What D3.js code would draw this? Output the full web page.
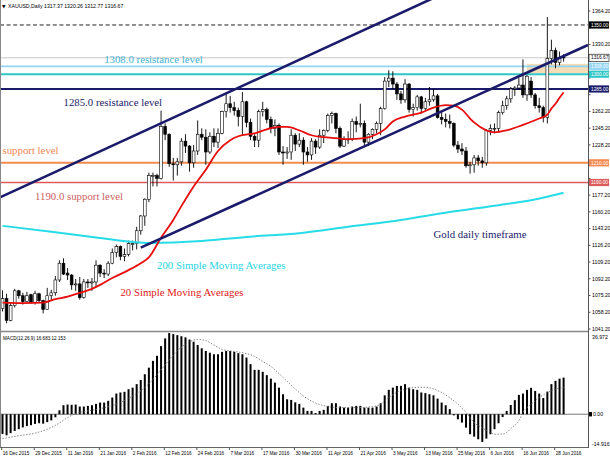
<!DOCTYPE html>
<html><head><meta charset="utf-8">
<script src="https://cdn.jsdelivr.net/npm/d3@7"></script>
<style>body{margin:0;background:#fff}svg{display:block}</style>
</head><body><svg id="c" width="610" height="457"></svg>
<script>
// ---------- DATA ----------
const dates = ["2015-12-16","2015-12-17","2015-12-18","2015-12-21","2015-12-22","2015-12-23","2015-12-24","2015-12-28","2015-12-29","2015-12-30","2015-12-31",
"2016-01-04","2016-01-05","2016-01-06","2016-01-07","2016-01-08","2016-01-11","2016-01-12","2016-01-13","2016-01-14","2016-01-15","2016-01-18","2016-01-19","2016-01-20","2016-01-21","2016-01-22","2016-01-25","2016-01-26","2016-01-27","2016-01-28","2016-01-29",
"2016-02-01","2016-02-02","2016-02-03","2016-02-04","2016-02-05","2016-02-08","2016-02-09","2016-02-10","2016-02-11","2016-02-12","2016-02-15","2016-02-16","2016-02-17","2016-02-18","2016-02-19","2016-02-22","2016-02-23","2016-02-24","2016-02-25","2016-02-26","2016-02-29",
"2016-03-01","2016-03-02","2016-03-03","2016-03-04","2016-03-07","2016-03-08","2016-03-09","2016-03-10","2016-03-11","2016-03-14","2016-03-15","2016-03-16","2016-03-17","2016-03-18","2016-03-21","2016-03-22","2016-03-23","2016-03-24","2016-03-28","2016-03-29","2016-03-30","2016-03-31",
"2016-04-01","2016-04-04","2016-04-05","2016-04-06","2016-04-07","2016-04-08","2016-04-11","2016-04-12","2016-04-13","2016-04-14","2016-04-15","2016-04-18","2016-04-19","2016-04-20","2016-04-21","2016-04-22","2016-04-25","2016-04-26","2016-04-27","2016-04-28","2016-04-29",
"2016-05-02","2016-05-03","2016-05-04","2016-05-05","2016-05-06","2016-05-09","2016-05-10","2016-05-11","2016-05-12","2016-05-13","2016-05-16","2016-05-17","2016-05-18","2016-05-19","2016-05-20","2016-05-23","2016-05-24","2016-05-25","2016-05-26","2016-05-27","2016-05-30","2016-05-31",
"2016-06-01","2016-06-02","2016-06-03","2016-06-06","2016-06-07","2016-06-08","2016-06-09","2016-06-10","2016-06-13","2016-06-14","2016-06-15","2016-06-16","2016-06-17","2016-06-20","2016-06-21","2016-06-22","2016-06-23","2016-06-24","2016-06-27","2016-06-28","2016-06-29","2016-06-30"];

const open = [1062,1072,1050,1065,1080,1075,1069,1076,1068,1077,1070,
1061,1075,1078,1091,1108,1098,1096,1086,1087,1073,1089,1088,1089,1106,1098,1097,1108,1119,1125,1115,
1117,1128,1128,1141,1156,1173,1197,1197,1194,1247,1239,1209,1208,1211,1232,1227,1210,1222,1239,1236,1221,
1237,1231,1240,1262,1270,1266,1263,1257,1272,1251,1237,1233,1262,1264,1254,1245,1248,1221,1220,1221,1238,1229,
1233,1221,1218,1232,1226,1238,1243,1258,1260,1245,1227,1234,1234,1252,1249,1250,1231,1239,1244,1250,1265,
1293,1296,1290,1280,1274,1290,1264,1266,1277,1265,1272,1274,1278,1256,1254,1252,1250,1228,1224,1222,1207,1208,
1215,1212,1210,1243,1245,1245,1261,1268,1275,1285,1286,1289,1279,1293,1279,1268,1266,1256,1316,1324,1312,1317.37];
const high = [1080.5,1077,1068,1082,1081,1078,1079,1077,1080,1078,1071,
1083,1081,1095,1111,1113,1103,1097,1092,1094,1092,1092,1093,1111,1107,1102,1110,1123,1127,1126,1123,
1131,1131,1145,1157,1174,1200,1200,1199,1263,1250,1240,1215,1215,1235,1239,1228,1228,1253,1245,1244,1241,
1245,1245,1263,1280,1278,1272,1266,1282,1273,1255,1239,1264,1272,1266,1257,1254,1250,1227,1226,1244,1240,1240,
1236,1226,1235,1234,1244,1244,1260,1262,1261,1247,1237,1242,1255,1257,1270,1253,1240,1245,1252,1267,1297,
1304,1303,1292,1283,1295,1291,1270,1279,1278,1276,1287,1285,1280,1262,1260,1259,1251,1232,1230,1226,1211,1218,
1218,1216,1244,1249,1250,1263,1273,1278,1287,1288,1296,1315,1299,1297,1281,1276,1268,1358,1335,1327,1323,1320.26];
const low = [1059,1047,1049,1063,1072,1066,1068,1067,1066,1068,1057,
1061,1071,1075,1089,1096,1091,1081,1080,1071,1072,1083,1080,1084,1094,1093,1095,1107,1114,1111,1110,
1115,1121,1122,1137,1146,1170,1186,1186,1193,1233,1206,1192,1197,1207,1220,1201,1205,1218,1233,1208,1219,
1226,1225,1239,1256,1261,1258,1247,1239,1246,1233,1226,1226,1257,1250,1240,1237,1218,1208,1214,1213,1222,1226,
1208,1211,1213,1219,1224,1230,1241,1250,1240,1225,1226,1229,1232,1241,1246,1228,1227,1234,1240,1238,1264,
1287,1285,1274,1270,1271,1261,1257,1263,1260,1263,1268,1272,1255,1249,1246,1245,1226,1220,1218,1205,1199,1200,
1207,1205,1207,1238,1240,1242,1259,1264,1271,1278,1284,1276,1273,1276,1265,1261,1251,1250,1310,1306,1309,1312.77];
const close = [1072,1050,1065,1080,1075,1069,1075,1068,1077,1070,1061,
1075,1078,1091,1108,1097,1096,1086,1087,1073,1089,1088,1089,1106,1098,1097,1108,1119,1125,1115,1117,
1128,1128,1141,1156,1173,1197,1197,1194,1247,1239,1209,1208,1211,1232,1227,1210,1222,1239,1236,1221,1237,
1231,1240,1262,1270,1266,1263,1257,1272,1251,1237,1233,1262,1264,1254,1245,1248,1221,1220,1221,1238,1229,1233,
1221,1218,1232,1226,1238,1243,1258,1260,1245,1227,1234,1234,1252,1249,1250,1231,1239,1244,1250,1265,1293,
1296,1290,1280,1274,1290,1264,1266,1277,1265,1272,1274,1278,1256,1254,1252,1250,1228,1224,1222,1207,1208,1215,
1212,1210,1243,1245,1245,1261,1268,1275,1285,1286,1289,1279,1298,1279,1268,1266,1256,1316,1324,1312,1317,1316.67];

// 20-period SMA: [date, price]
const sma20 = [["2015-12-16",1068],["2015-12-23",1067.5],["2015-12-31",1068],["2016-01-06",1071.5],["2016-01-11",1074],["2016-01-14",1078],["2016-01-19",1082],["2016-01-21",1086],["2016-01-26",1093],["2016-02-01",1101],["2016-02-04",1108],["2016-02-08",1114],["2016-02-11",1134],["2016-02-16",1152],["2016-02-18",1166],["2016-02-23",1186],["2016-02-26",1203],["2016-03-02",1222],["2016-03-07",1233],["2016-03-09",1237],["2016-03-15",1240],["2016-03-18",1244],["2016-03-23",1246.5],["2016-03-28",1246.5],["2016-03-31",1243],["2016-04-05",1238],["2016-04-08",1236],["2016-04-13",1235],["2016-04-18",1234],["2016-04-22",1235],["2016-04-27",1239],["2016-04-29",1244],["2016-05-03",1252],["2016-05-06",1257],["2016-05-12",1261],["2016-05-17",1266],["2016-05-20",1268.5],["2016-05-24",1268],["2016-05-26",1264],["2016-05-30",1255],["2016-05-31",1251],["2016-06-03",1243],["2016-06-07",1241],["2016-06-10",1243],["2016-06-16",1248.5],["2016-06-22",1255],["2016-06-24",1259],["2016-06-27",1265],["2016-06-28",1270],["2016-06-29",1276],["2016-06-30",1281.5]];
// 200-period SMA
const sma200 = [["2015-12-16",1146],["2016-01-05",1140],["2016-01-21",1133.6],["2016-02-02",1129.6],["2016-02-08",1128.6],["2016-02-25",1130.5],["2016-03-14",1135],["2016-03-31",1138.5],["2016-04-18",1145],["2016-05-05",1152],["2016-05-23",1160],["2016-06-08",1167],["2016-06-20",1172],["2016-06-30",1179.6]];

// MACD(12,26,9) main values (histogram)
const macd = [-9.0,-9.6,-8.6,-7.6,-6.8,-6.0,-5.4,-5.0,-4.4,-4.1,-4.3,-3.6,-2.8,-1.4,1.8,4.1,4.4,4.3,4.4,3.5,
3.5,3.8,4.1,4.7,5.3,5.3,6.1,7.6,9.4,9.9,10.2,11.4,12.1,13.7,15.6,18.2,21.2,24.3,26.6,31.0,
34.5,36.97,36.5,36.0,35.5,35.0,34.0,33.0,31.5,30.0,28.8,28.0,27.3,27.3,28.4,28.8,28.8,28.4,27.8,27.3,
25.8,22.8,20.2,20.2,19.3,17.8,16.2,14.4,12.1,9.1,6.8,6.5,5.4,4.7,3.0,1.5,1.5,0.5,1.5,2.0,
3.8,5.0,5.0,3.5,3.0,3.0,3.5,3.8,3.8,3.0,3.0,3.0,3.5,5.0,8.6,11.1,12.1,12.9,12.9,13.7,
12.1,11.4,11.1,9.9,9.6,9.1,8.6,7.1,5.3,4.1,2.3,-0.5,-2.3,-3.8,-6.1,-9.1,-10.2,-11.4,-12.6,-11.1,
-9.1,-6.8,-4.1,-1.3,1.5,4.2,6.4,8.8,9.4,11.1,12.0,10.6,9.4,7.4,10.3,13.7,15.2,16.2,16.68];
// MACD signal line samples [date, value]
const signal = [["2015-12-16",-11.1],["2015-12-22",-9.8],["2015-12-29",-8.6],["2016-01-05",-6.0],["2016-01-07",-4.0],["2016-01-11",-1.5],["2016-01-13",0.3],["2016-01-18",1.5],["2016-01-21",2.5],["2016-01-27",4.6],["2016-02-02",8.3],["2016-02-08",13.8],["2016-02-10",18],["2016-02-12",22.5],["2016-02-16",27],["2016-02-18",30.5],["2016-02-22",33],["2016-02-24",34],["2016-02-26",33.5],["2016-03-01",31.5],["2016-03-03",29.5],["2016-03-07",28.8],["2016-03-09",28.3],["2016-03-11",27.6],["2016-03-15",26.3],["2016-03-17",24],["2016-03-21",21.8],["2016-03-23",18.5],["2016-03-28",15],["2016-03-30",11.5],["2016-04-01",8.3],["2016-04-05",6],["2016-04-07",4.4],["2016-04-11",3.5],["2016-04-14",3.0],["2016-04-20",3.0],["2016-04-26",3.5],["2016-04-28",4.5],["2016-05-02",7.6],["2016-05-04",10],["2016-05-06",11.3],["2016-05-10",12.1],["2016-05-13",12.3],["2016-05-17",11.5],["2016-05-19",9.9],["2016-05-23",7.5],["2016-05-25",4.6],["2016-05-27",0.8],["2016-05-31",-3.8],["2016-06-02",-6.2],["2016-06-06",-8.3],["2016-06-07",-9.1],["2016-06-09",-9.0],["2016-06-10",-8.3],["2016-06-13",-6.5],["2016-06-15",-3.0],["2016-06-16",0.8],["2016-06-20",4.5],["2016-06-22",7.6],["2016-06-24",9.8],["2016-06-28",11.4],["2016-06-30",12.15]];

const yTicks = [1041.2,1058.2,1075.2,1092.2,1109.2,1126.2,1143.2,1160.2,1177.2,1194.2,1211.2,1228.2,1245.2,1262.2,1279.2,1296.2,1313.2,1330.2,1347.2,1364.2];
const xTickDates = ["2015-12-16","2015-12-29","2016-01-11","2016-01-21","2016-02-02","2016-02-12","2016-02-24","2016-03-07","2016-03-17","2016-03-30","2016-04-11","2016-04-21","2016-05-03","2016-05-13","2016-05-25","2016-06-06","2016-06-16","2016-06-28"];

// horizontal levels
const levels = [
  {price:1350, color:"#222", width:1, dash:"4,2.6", box:"#000", txt:"#fff"},
  {price:1316.67, color:"#c8c8c8", width:1, dash:null, box:"#fff", txt:"#000", border:"#000"},
  {price:1308, color:"#92d4f2", width:1.6, dash:null, box:"#92d4f2", txt:"#fff"},
  {price:1300, color:"#2fc6c6", width:2, dash:null, box:"#2fc6c6", txt:"#fff"},
  {price:1285, color:"#1b1b6b", width:2, dash:null, box:"#1b1b6b", txt:"#fff"},
  {price:1210, color:"#f28a52", width:2, dash:null, box:"#f28a52", txt:"#fff"},
  {price:1190, color:"#dc5c5c", width:1.6, dash:null, box:"#dc5c5c", txt:"#fff"}
];
// channel trend lines [date, price] anchors
const upperChannel = [["2015-12-16",1176],["2016-05-09",1366]];
const lowerChannel = [["2016-02-04",1123.8],["2016-06-30",1318.4]];
// rectangle zone
const zone = {from:"2016-06-17", lo:1301, hi:1310.5};
// text annotations [text, date, price, color]
const notes = [
  ["1308.0 resistance level","2016-01-22",1311.4,"#3fb2d2"],
  ["1285.0 resistance level","2016-01-08",1267.7,"#1b1b6b"],
  ["support level","2015-12-16",1218.9,"#ef8550"],
  ["1190.0 support level","2015-12-29",1172.2,"#cd6060"],
  ["200 Simple Moving Averages","2016-02-10",1102,"#1fd4e2"],
  ["20 Simple Moving Averages","2016-01-28",1074.7,"#e01818"],
  ["Gold daily timeframe","2016-05-17",1133.6,"#1b1b6b"]
];

// ---------- DRAW ----------
const svg = d3.select("#c");
const plotR = 588, mainBot = 331;
const x = d3.scalePoint().domain(dates).range([2.5, 2.5 + 4.066*(dates.length-1)]);
const y = d3.scaleLinear().domain([1041.2,1364.2]).range([329,11]);
const ym = d3.scaleLinear().domain([-14.916,36.972]).range([447,333]);
const bars = dates.map((d,i)=>({d, o:open[i], h:high[i], l:low[i], c:close[i], m:macd[i]}));

svg.append("rect").attr("width",610).attr("height",457).attr("fill","#fff");
const defs = svg.append("defs");
defs.append("clipPath").attr("id","mainClip").append("rect").attr("x",0).attr("y",0).attr("width",plotR).attr("height",mainBot);
defs.append("clipPath").attr("id","macdClip").append("rect").attr("x",0).attr("y",333).attr("width",plotR).attr("height",114);

const main = svg.append("g").attr("clip-path","url(#mainClip)");

// zone rectangle
main.append("rect").attr("x",x(zone.from)).attr("y",y(zone.hi))
  .attr("width",plotR - x(zone.from)).attr("height",y(zone.lo)-y(zone.hi)).attr("fill","#f3dcb6");

// levels
levels.forEach(l=>{
  main.append("line").attr("x1",0).attr("x2",plotR).attr("y1",y(l.price)).attr("y2",y(l.price))
    .attr("stroke",l.color).attr("stroke-width",l.width).attr("stroke-dasharray",l.dash);
});

// candles
const cg = main.append("g");
cg.selectAll("line.w").data(bars).join("line").attr("class","w")
  .attr("x1",d=>x(d.d)).attr("x2",d=>x(d.d)).attr("y1",d=>y(d.h)).attr("y2",d=>y(d.l))
  .attr("stroke","#000").attr("stroke-width",0.9);
cg.selectAll("rect.b").data(bars).join("rect").attr("class","b")
  .attr("x",d=>x(d.d)-1.4).attr("width",2.8)
  .attr("y",d=>y(Math.max(d.o,d.c))).attr("height",d=>Math.max(0.8, Math.abs(y(d.o)-y(d.c))))
  .attr("fill",d=>d.c>=d.o?"#fff":"#000").attr("stroke","#000").attr("stroke-width",0.6);

// moving averages
const ln = d3.line().x(d=>x(d[0])).y(d=>y(d[1])).curve(d3.curveMonotoneX);
main.append("path").attr("d",ln(sma200)).attr("fill","none").attr("stroke","#27dbe7").attr("stroke-width",2);
main.append("path").attr("d",ln(sma20)).attr("fill","none").attr("stroke","#e80c0c").attr("stroke-width",1.8);

// channel lines
function extend(a, x0, x1){
  const ax = x(a[0][0]), ay = y(a[0][1]), bx = x(a[1][0]), by = y(a[1][1]);
  const k = (by-ay)/(bx-ax);
  return [[x0, ay + k*(x0-ax)],[x1, ay + k*(x1-ax)]];
}
[[upperChannel,0],[lowerChannel,null]].forEach(([ch,start])=>{
  const s = start===null ? x(ch[0][0]) : start;
  const p = extend(ch, s, plotR);
  main.append("line").attr("x1",p[0][0]).attr("y1",p[0][1]).attr("x2",p[1][0]).attr("y2",p[1][1])
    .attr("stroke","#1b1b6b").attr("stroke-width",2.6);
});

// annotations
notes.forEach(n=>{
  main.append("text").attr("x",x(n[1])).attr("y",y(n[2])).text(n[0])
    .attr("font-family","'Liberation Serif', serif").attr("font-size",10.8).attr("fill",n[3]);
});

// header
svg.append("text").attr("x",2).attr("y",8).text("▼").attr("font-family","'DejaVu Sans'").attr("font-size",4.5).attr("fill","#000");
svg.append("text").attr("x",8).attr("y",8).text("XAUUSD,Daily  1317.37 1320.26 1312.77 1316.67")
  .attr("font-family","'Liberation Sans', sans-serif").attr("font-size",5.2).attr("fill","#000");

// MACD panel
const mg = svg.append("g").attr("clip-path","url(#macdClip)");
mg.append("line").attr("x1",0).attr("x2",plotR).attr("y1",ym(0)).attr("y2",ym(0)).attr("stroke","#555").attr("stroke-width",0.8);
mg.selectAll("rect.h").data(bars).join("rect").attr("class","h")
  .attr("x",d=>x(d.d)-1).attr("width",2)
  .attr("y",d=>Math.min(ym(0),ym(d.m))).attr("height",d=>Math.abs(ym(d.m)-ym(0)))
  .attr("fill","#000");
mg.append("path").attr("d",d3.line().x(d=>x(d[0])).y(d=>ym(d[1])).curve(d3.curveMonotoneX)(signal))
  .attr("fill","none").attr("stroke","#777").attr("stroke-width",0.9).attr("stroke-dasharray","1.4,1.6");
svg.append("text").attr("x",3).attr("y",340).text("MACD(12,26,9) 16.683 12.153")
  .attr("font-family","'Liberation Sans', sans-serif").attr("font-size",4.6).attr("fill","#000");

// frames
svg.append("line").attr("x1",0.5).attr("x2",0.5).attr("y1",0).attr("y2",447).attr("stroke","#888");
svg.append("line").attr("x1",0).attr("x2",plotR).attr("y1",mainBot+0.5).attr("y2",mainBot+0.5).attr("stroke","#888").attr("stroke-width",1.4);
svg.append("line").attr("x1",0).attr("x2",plotR).attr("y1",447.5).attr("y2",447.5).attr("stroke","#666");
svg.append("line").attr("x1",plotR+0.5).attr("x2",plotR+0.5).attr("y1",0).attr("y2",448).attr("stroke","#555");

// right price axis (tick labels hidden where a level box covers them, as in the terminal)
const ax = svg.append("g").attr("font-family","'Liberation Sans', sans-serif").attr("font-size",5.2);
yTicks.forEach(t=>{
  ax.append("line").attr("x1",plotR).attr("x2",plotR+2.5).attr("y1",y(t)).attr("y2",y(t)).attr("stroke","#555");
  const covered = levels.some(l=>Math.abs(y(l.price)-y(t))<7.2);
  if(!covered) ax.append("text").attr("x",plotR+4).attr("y",y(t)+1.8).text(d3.format(".2f")(t)).attr("fill","#000");
});
levels.forEach(l=>{
  ax.append("rect").attr("x",plotR+1).attr("y",y(l.price)-3.6).attr("width",20).attr("height",7.2)
    .attr("fill",l.box).attr("stroke",l.border||"none").attr("stroke-width",0.6);
});
levels.forEach(l=>{
  ax.append("text").attr("x",plotR+3).attr("y",y(l.price)+1.7).text(d3.format(".2f")(l.price))
    .attr("font-size",4.8).attr("fill",l.txt);
});
// MACD axis labels
ax.append("text").attr("x",plotR+4).attr("y",339).text("36.972").attr("fill","#000");
ax.append("text").attr("x",plotR+4).attr("y",445.5).text("-14.916").attr("fill","#000");
ax.append("rect").attr("x",plotR+1).attr("y",ym(0)-2.2).attr("width",3).attr("height",4.4).attr("fill","#000");
ax.append("text").attr("x",plotR+5).attr("y",ym(0)+1.8).text("0.00").attr("fill","#000");

// time axis
const parse = d3.timeParse("%Y-%m-%d"), fmt = d3.timeFormat("%-d %b %Y");
xTickDates.forEach(d=>{
  const xx = x(d)-0.8;
  ax.append("line").attr("x1",xx).attr("x2",xx).attr("y1",447).attr("y2",450).attr("stroke","#555");
  ax.append("text").attr("x",xx+1).attr("y",454.5).text(fmt(parse(d))).attr("font-size",4.7).attr("fill","#000");
});
</script></body></html>
